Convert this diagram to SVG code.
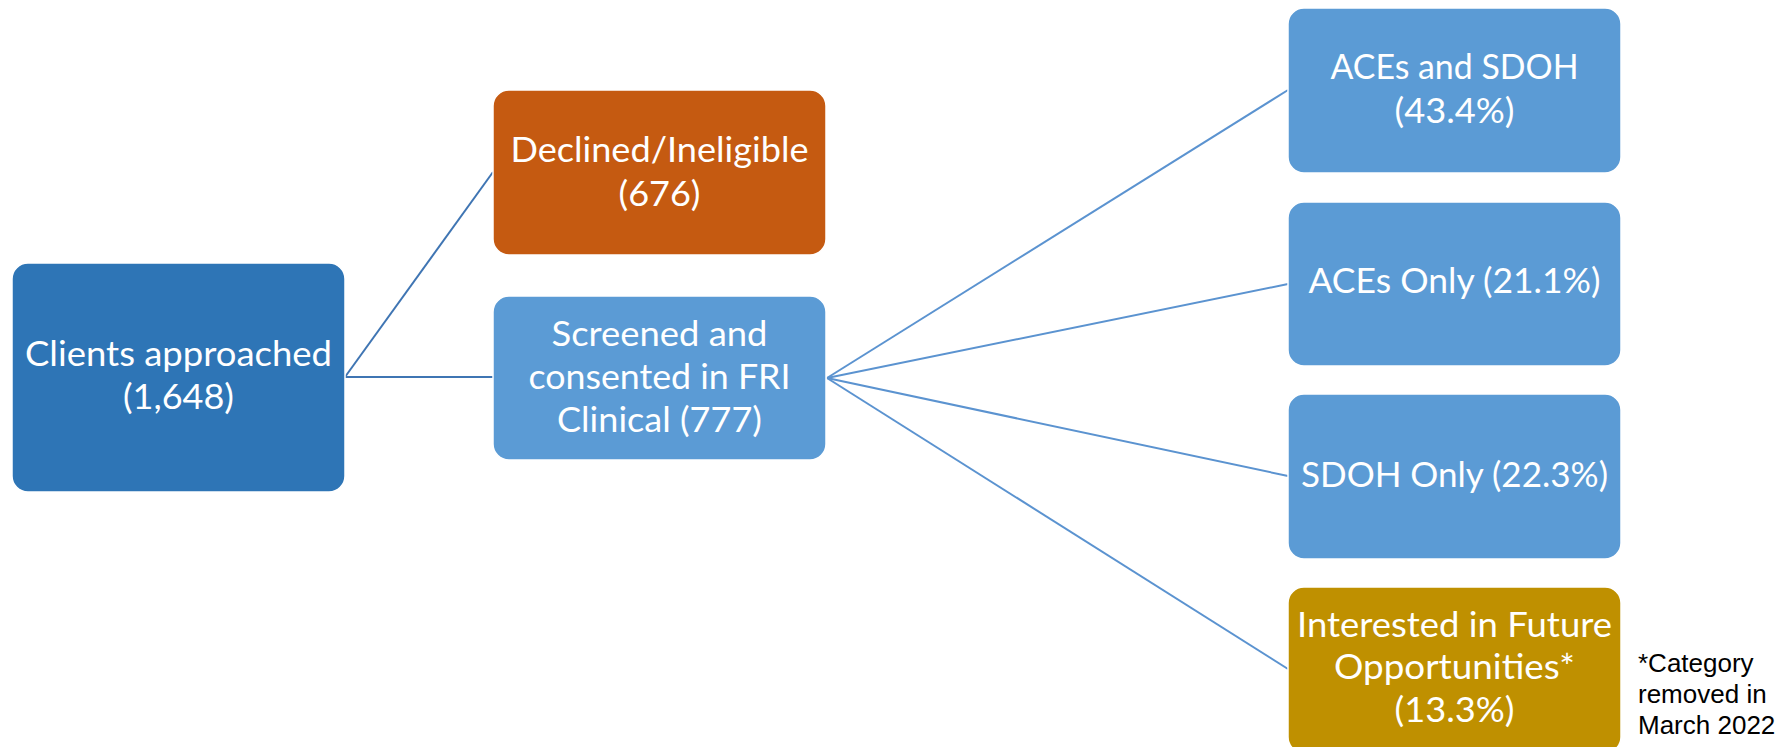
<svg xmlns="http://www.w3.org/2000/svg" width="1788" height="747" viewBox="0 0 1788 747">
<style>
.box{stroke:#ffffff;stroke-width:1.5}
.t{font-family:Lato,"Open Sans","Noto Sans",sans-serif;font-size:35px;fill:#ffffff;text-anchor:middle}
.note{font-family:"Liberation Sans",Arial,sans-serif;font-size:26px;fill:#000000}
.c1{stroke:#3F75B3;stroke-width:2;fill:none}
.c2{stroke:#5B93D0;stroke-width:2;fill:none}
</style>
<rect width="1788" height="747" fill="#ffffff"/>
<g id="connectors">
<line class="c1" x1="345" y1="377" x2="493" y2="377"/>
<line class="c1" x1="345" y1="377" x2="493" y2="172"/>
<line class="c2" x1="827" y1="378" x2="1288" y2="90"/>
<line class="c2" x1="827" y1="378" x2="1288" y2="284"/>
<line class="c2" x1="827" y1="378" x2="1288" y2="476"/>
<line class="c2" x1="827" y1="378" x2="1288" y2="669"/>
</g>
<g id="clients">
<rect class="box" x="12" y="263" width="333" height="229" rx="16" fill="#2E75B6"/>
<text class="t" x="178.5" y="366" textLength="307" lengthAdjust="spacingAndGlyphs">Clients approached</text>
<text class="t" x="178.5" y="409" textLength="111" lengthAdjust="spacingAndGlyphs">(1,648)</text>
</g>
<g id="declined">
<rect class="box" x="493" y="90" width="333" height="165" rx="16" fill="#C55A11"/>
<text class="t" x="659.5" y="162" textLength="298" lengthAdjust="spacingAndGlyphs">Declined/Ineligible</text>
<text class="t" x="659.5" y="206" textLength="82" lengthAdjust="spacingAndGlyphs">(676)</text>
</g>
<g id="screened">
<rect class="box" x="493" y="296" width="333" height="164" rx="16" fill="#5B9BD5"/>
<text class="t" x="659.5" y="346" textLength="216" lengthAdjust="spacingAndGlyphs">Screened and</text>
<text class="t" x="659.5" y="389" textLength="262" lengthAdjust="spacingAndGlyphs">consented in FRI</text>
<text class="t" x="659.5" y="432" textLength="205" lengthAdjust="spacingAndGlyphs">Clinical (777)</text>
</g>
<g id="aces-sdoh">
<rect class="box" x="1288" y="8" width="333" height="165" rx="16" fill="#5B9BD5"/>
<text class="t" x="1454.5" y="79" textLength="248" lengthAdjust="spacingAndGlyphs">ACEs and SDOH</text>
<text class="t" x="1454.5" y="123" textLength="120" lengthAdjust="spacingAndGlyphs">(43.4%)</text>
</g>
<g id="aces-only">
<rect class="box" x="1288" y="202" width="333" height="164" rx="16" fill="#5B9BD5"/>
<text class="t" x="1454.5" y="293" textLength="292" lengthAdjust="spacingAndGlyphs">ACEs Only (21.1%)</text>
</g>
<g id="sdoh-only">
<rect class="box" x="1288" y="394" width="333" height="165" rx="16" fill="#5B9BD5"/>
<text class="t" x="1454.5" y="487" textLength="307" lengthAdjust="spacingAndGlyphs">SDOH Only (22.3%)</text>
</g>
<g id="interested">
<rect class="box" x="1288" y="587" width="333" height="166" rx="16" fill="#BF9000"/>
<text class="t" x="1454.5" y="637" textLength="315" lengthAdjust="spacingAndGlyphs">Interested in Future</text>
<text class="t" x="1454.5" y="679" textLength="241" lengthAdjust="spacingAndGlyphs">Opportunities*</text>
<text class="t" x="1454.5" y="722" textLength="120" lengthAdjust="spacingAndGlyphs">(13.3%)</text>
</g>
<g id="note">
<text class="note" x="1638" y="672">*Category</text>
<text class="note" x="1638" y="703">removed in</text>
<text class="note" x="1638" y="734">March 2022</text>
</g>
</svg>
